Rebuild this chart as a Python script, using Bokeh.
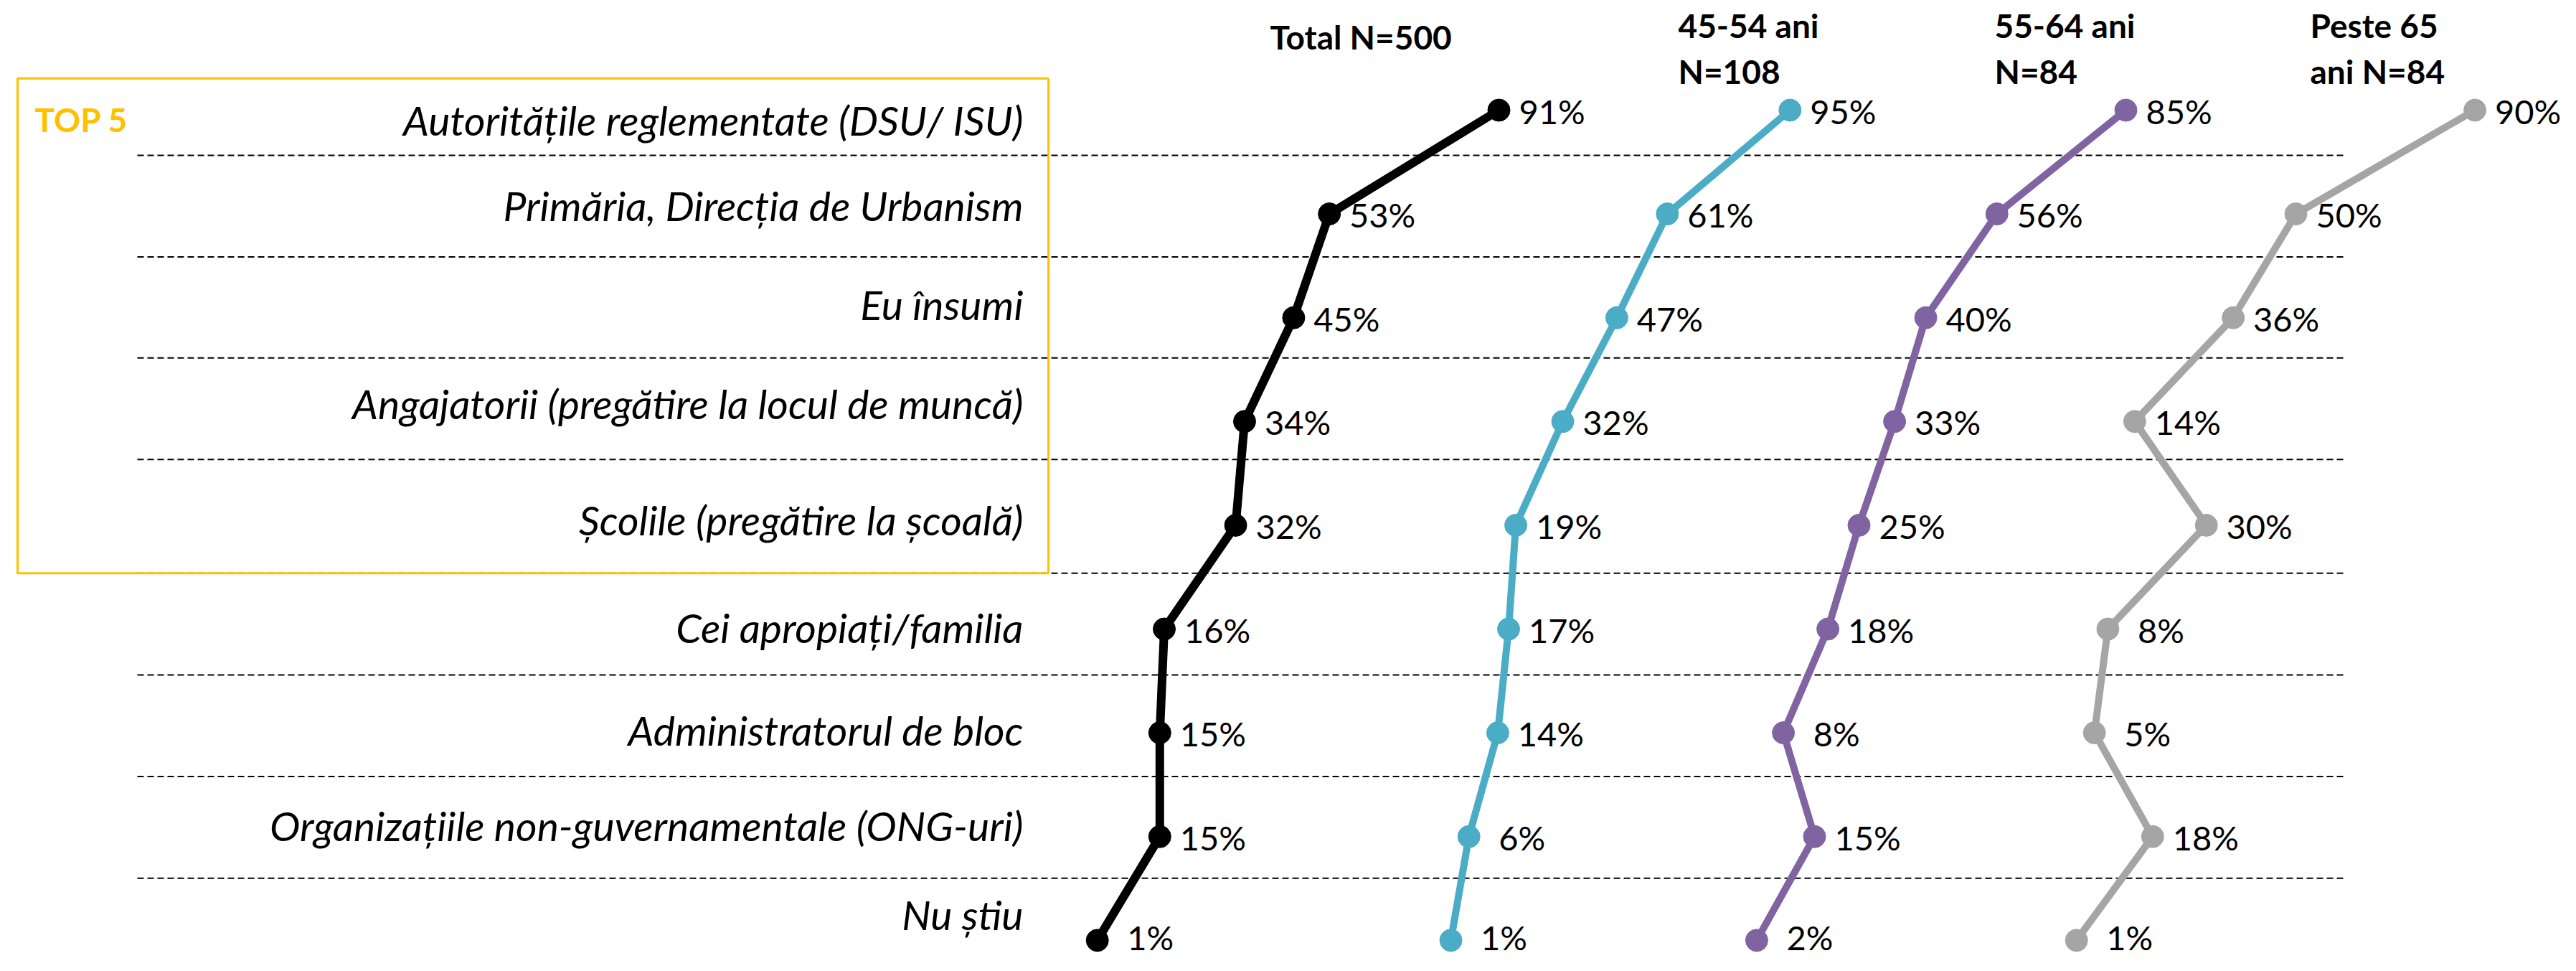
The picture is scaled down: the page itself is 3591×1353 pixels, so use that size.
from bokeh.plotting import figure
from bokeh.models import Range1d, ColumnDataSource
from bokeh.core.properties import value
from bokeh.embed import file_html
from bokeh.resources import INLINE

# ---------------- data ----------------
categories = [
    "Autoritățile reglementate (DSU/ ISU)",
    "Primăria, Direcția de Urbanism",
    "Eu însumi",
    "Angajatorii (pregătire la locul de muncă)",
    "Școlile (pregătire la școală)",
    "Cei apropiați/familia",
    "Administratorul de bloc",
    "Organizațiile non-guvernamentale (ONG-uri)",
    "Nu știu",
]
series_title_line1 = ["Total N=500", "45-54 ani", "55-64 ani", "Peste 65"]
series_title_line2 = ["", "N=108", "N=84", "ani N=84"]
total = [91, 53, 45, 34, 32, 16, 15, 15, 1]
age_45_54 = [95, 61, 47, 32, 19, 17, 14, 6, 1]
age_55_64 = [85, 56, 40, 33, 25, 18, 8, 15, 2]
age_65_plus = [90, 50, 36, 14, 30, 8, 5, 18, 1]
series_values = [total, age_45_54, age_55_64, age_65_plus]
top_label = "TOP 5"

# ---------------- layout / style ----------------
W, H = 3575, 1337
colors = ["#000000", "#4BACC6", "#8064A2", "#A5A5A5"]
line_widths = [12, 10, 10, 10]
# each panel: pixel where 0% sits, pixels per percentage point
panel_zero_px = [1523, 2017, 2436, 2888]
panel_px_per_pct = [6.22, 5.03, 6.20, 6.24]
row0_px, row_step_px = 153, 144.6
# positions below in row units (row i is at i)
dash_rows = [0.435, 1.415, 2.388, 3.367, 4.463, 5.442, 6.422, 7.401]
label_rows = [0.095, 0.918, 1.871, 2.823, 3.946, 4.986, 5.973, 6.891, 7.748]
value_label_dy = [1, 1, 1, 1, 1, 1, 1, 1, -4]   # last row nudged up to stay inside
box_top_row, box_bottom_row = -0.306, 4.463
top_label_row = 0.088
title_x = [1770, 2339, 2780, 3220]
title_y1 = [51, 35, 35, 35]
title_y2 = 99
FONT = "Lato"

y_top = -row0_px / row_step_px
y_bot = (H - row0_px) / row_step_px

p = figure(width=W, height=H, x_range=Range1d(0, W), y_range=Range1d(y_bot, y_top),
           output_backend="svg", toolbar_location=None, min_border=0,
           x_axis_type=None, y_axis_type=None)
p.grid.visible = False
p.outline_line_color = None
p.background_fill_color = "white"
p.border_fill_color = "white"

p.extra_y_ranges = {"px": Range1d(H, 0)}
for i, (z, k) in enumerate(zip(panel_zero_px, panel_px_per_pct)):
    p.extra_x_ranges[f"s{i}"] = Range1d(-z / k, (W - z) / k)

# dashed separators
p.segment(x0=[191] * len(dash_rows), x1=[3269] * len(dash_rows), y0=dash_rows, y1=dash_rows,
          line_color="black", line_width=2, line_dash="9 5")

# TOP 5 box
p.quad(left=[24], right=[1461], top=[box_top_row], bottom=[box_bottom_row],
       fill_color=None, line_color="#FFC000", line_width=3)
p.text(x=[48], y=[top_label_row], text=[top_label], text_font=value(FONT),
       text_font_style="bold", text_font_size="46px", text_color="#FFC000",
       text_align="left", text_baseline="middle")

# category labels
p.text(x=[1426] * len(categories), y=label_rows, text=categories, text_font=value(FONT),
       text_font_style="italic", text_font_size="57px", text_color="black",
       text_align="right", text_baseline="middle")

# series
idx = list(range(len(categories)))
for i, vals in enumerate(series_values):
    src = ColumnDataSource(dict(v=vals, idx=idx, lbl=[f"{v}%" for v in vals], dy=value_label_dy))
    rn = f"s{i}"
    p.line(x="v", y="idx", source=src, x_range_name=rn, line_color=colors[i],
           line_width=line_widths[i], line_join="round", line_cap="round")
    p.scatter(x="v", y="idx", source=src, x_range_name=rn, marker="circle", size=31,
              fill_color=colors[i], line_color=colors[i])
    p.text(x="v", y="idx", text="lbl", source=src, x_range_name=rn, x_offset=74, y_offset="dy",
           text_font=value(FONT), text_font_size="47px", text_color="black",
           text_align="center", text_baseline="middle")
    p.text(x=[title_x[i]], y=[title_y1[i]], text=[series_title_line1[i]], y_range_name="px",
           text_font=value(FONT), text_font_style="bold", text_font_size="46px",
           text_color="black", text_align="left", text_baseline="middle")
    if series_title_line2[i]:
        p.text(x=[title_x[i]], y=[title_y2], text=[series_title_line2[i]], y_range_name="px",
               text_font=value(FONT), text_font_style="bold", text_font_size="46px",
               text_color="black", text_align="left", text_baseline="middle")

open("out.html", "w").write(file_html(p, INLINE))
